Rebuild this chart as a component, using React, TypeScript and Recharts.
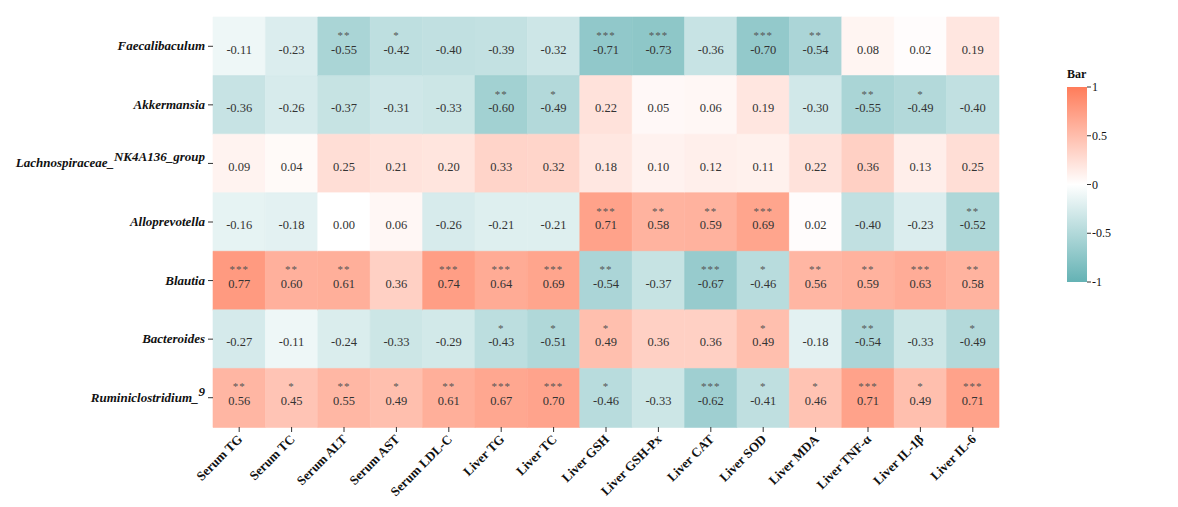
import { BarChart, Bar, XAxis, YAxis, Cell, LabelList } from 'recharts';

// rows, top to bottom
const rowNames = [
  'Faecalibaculum',
  'Akkermansia',
  'Lachnospiraceae_NK4A136_group',
  'Alloprevotella',
  'Blautia',
  'Bacteroides',
  'Ruminiclostridium_9',
];

const colNames = [
  'Serum TG', 'Serum TC', 'Serum ALT', 'Serum AST', 'Serum LDL-C',
  'Liver TG', 'Liver TC', 'Liver GSH', 'Liver GSH-Px', 'Liver CAT',
  'Liver SOD', 'Liver MDA', 'Liver TNF-α', 'Liver IL-1β', 'Liver IL-6',
];

// correlation values per row
const faecalibaculum = [-0.11, -0.23, -0.55, -0.42, -0.40, -0.39, -0.32, -0.71, -0.73, -0.36, -0.70, -0.54, 0.08, 0.02, 0.19];
const akkermansia = [-0.36, -0.26, -0.37, -0.31, -0.33, -0.60, -0.49, 0.22, 0.05, 0.06, 0.19, -0.30, -0.55, -0.49, -0.40];
const lachnospiraceae = [0.09, 0.04, 0.25, 0.21, 0.20, 0.33, 0.32, 0.18, 0.10, 0.12, 0.11, 0.22, 0.36, 0.13, 0.25];
const alloprevotella = [-0.16, -0.18, 0.00, 0.06, -0.26, -0.21, -0.21, 0.71, 0.58, 0.59, 0.69, 0.02, -0.40, -0.23, -0.52];
const blautia = [0.77, 0.60, 0.61, 0.36, 0.74, 0.64, 0.69, -0.54, -0.37, -0.67, -0.46, 0.56, 0.59, 0.63, 0.58];
const bacteroides = [-0.27, -0.11, -0.24, -0.33, -0.29, -0.43, -0.51, 0.49, 0.36, 0.36, 0.49, -0.18, -0.54, -0.33, -0.49];
const ruminiclostridium = [0.56, 0.45, 0.55, 0.49, 0.61, 0.67, 0.70, -0.46, -0.33, -0.62, -0.41, 0.46, 0.71, 0.49, 0.71];

// significance marks per row
const faecalibaculumSig = ['', '', '**', '*', '', '', '', '***', '***', '', '***', '**', '', '', ''];
const akkermansiaSig = ['', '', '', '', '', '**', '*', '', '', '', '', '', '**', '*', ''];
const lachnospiraceaeSig = ['', '', '', '', '', '', '', '', '', '', '', '', '', '', ''];
const alloprevotellaSig = ['', '', '', '', '', '', '', '***', '**', '**', '***', '', '', '', '**'];
const blautiaSig = ['***', '**', '**', '', '***', '***', '***', '**', '', '***', '*', '**', '**', '***', '**'];
const bacteroidesSig = ['', '', '', '', '', '*', '*', '*', '', '', '*', '', '**', '', '*'];
const ruminiclostridiumSig = ['**', '*', '**', '*', '**', '***', '***', '*', '', '***', '*', '*', '***', '*', '***'];

const values = [faecalibaculum, akkermansia, lachnospiraceae, alloprevotella, blautia, bacteroides, ruminiclostridium];
const sigs = [faecalibaculumSig, akkermansiaSig, lachnospiraceaeSig, alloprevotellaSig, blautiaSig, bacteroidesSig, ruminiclostridiumSig];

const legendTicks = [1, 0.5, 0, -0.5, -1];

const FONT = '"Liberation Serif", "Times New Roman", serif';
const HIGH = [255, 124, 90];
const LOW = [100, 178, 180];

function colorFor(v: number) {
  const t = Math.min(1, Math.abs(v));
  const end = v >= 0 ? HIGH : LOW;
  const c = end.map((e) => Math.round(255 + (e - 255) * t));
  return `rgb(${c[0]},${c[1]},${c[2]})`;
}

const chartData = rowNames.map((name) => {
  const row: any = { name };
  colNames.forEach((_c, j) => {
    row[`c${j}`] = 1;
  });
  return row;
});

const RowTick = ({ x, y, payload }: any) => {
  const name: string = payload.value;
  const i = name.indexOf('_');
  const base = i >= 0 ? name.slice(0, i + 1) : name;
  const sup = i >= 0 ? name.slice(i + 1) : '';
  return (
    <text x={x} y={y} dy={4} textAnchor="end" fontFamily={FONT} fontSize={13}
      fontWeight="bold" fontStyle="italic" fill="#111">
      {base}
      {sup && <tspan dy={-6}>{sup}</tspan>}
    </text>
  );
};

const ColTick = ({ x, y, payload }: any) => (
  <g transform={`translate(${x + 4},${y + 6})`}>
    <text transform="rotate(-45)" textAnchor="end" fontFamily={FONT} fontSize={13}
      fontWeight="bold" fill="#111">
      {colNames[Math.floor(payload.value)]}
    </text>
  </g>
);

const makeLabel = (col: number) => (props: any) => {
  const { x, y, width, height, index } = props;
  const cx = x + width / 2;
  const cy = y + height / 2;
  const v = values[index][col];
  const s = sigs[index][col];
  return (
    <g>
      {s && (
        <text x={cx} y={cy - 7.5} textAnchor="middle" fontFamily={FONT} fontSize={11}
          letterSpacing={1} fill="#555">
          {s}
        </text>
      )}
      <text x={cx} y={cy + 7} textAnchor="middle" fontFamily={FONT} fontSize={12.5} fill="#333">
        {v.toFixed(2)}
      </text>
    </g>
  );
};

export default function App() {
  const barTop = 79;
  const barBottom = 274;
  const barX = 1059;
  const barW = 20;
  const scaleY = (v: number) => barTop + ((1 - v) / 2) * (barBottom - barTop);

  return (
    <div style={{ position: 'relative', width: 1170, height: 499 }}>
      <BarChart
        width={1170}
        height={499}
        data={chartData}
        layout="vertical"
        barCategoryGap={0}
        margin={{ top: 9, right: 179, bottom: 0, left: 0 }}
      >
        <XAxis
          type="number"
          domain={[0, 15]}
          ticks={colNames.map((_c, j) => j + 0.5)}
          tick={<ColTick />}
          axisLine={false}
          tickLine={{ stroke: '#333' }}
          tickSize={5}
          height={80}
          interval={0}
        />
        <YAxis
          type="category"
          dataKey="name"
          width={205}
          tick={<RowTick />}
          axisLine={false}
          tickLine={{ stroke: '#333' }}
          tickSize={5}
          tickMargin={3}
          interval={0}
        />
        {colNames.map((_c, j) => (
          <Bar key={j} dataKey={`c${j}`} stackId="a" isAnimationActive={false}>
            {rowNames.map((_r, i) => (
              <Cell key={i} fill={colorFor(values[i][j])} stroke={colorFor(values[i][j])} strokeWidth={0.6} />
            ))}
            <LabelList content={makeLabel(j)} />
          </Bar>
        ))}
      </BarChart>
      <svg width={1170} height={499} style={{ position: 'absolute', left: 0, top: 0, pointerEvents: 'none' }}>
        <defs>
          <linearGradient id="bar-grad" x1="0" y1="0" x2="0" y2="1">
            <stop offset="0%" stopColor={colorFor(1)} />
            <stop offset="50%" stopColor={colorFor(0)} />
            <stop offset="100%" stopColor={colorFor(-1)} />
          </linearGradient>
        </defs>
        <text x={barX} y={barTop - 9} fontFamily={FONT} fontSize={12} fontWeight="bold" fill="#111">Bar</text>
        <rect x={barX} y={barTop} width={barW} height={barBottom - barTop} fill="url(#bar-grad)" />
        {legendTicks.map((t) => (
          <g key={t}>
            <line x1={barX + barW} x2={barX + barW + 4} y1={scaleY(t)} y2={scaleY(t)} stroke="#333" />
            <text x={barX + barW + 5} y={scaleY(t) + 4} fontFamily={FONT} fontSize={12} fill="#111">{t}</text>
          </g>
        ))}
      </svg>
    </div>
  );
}
